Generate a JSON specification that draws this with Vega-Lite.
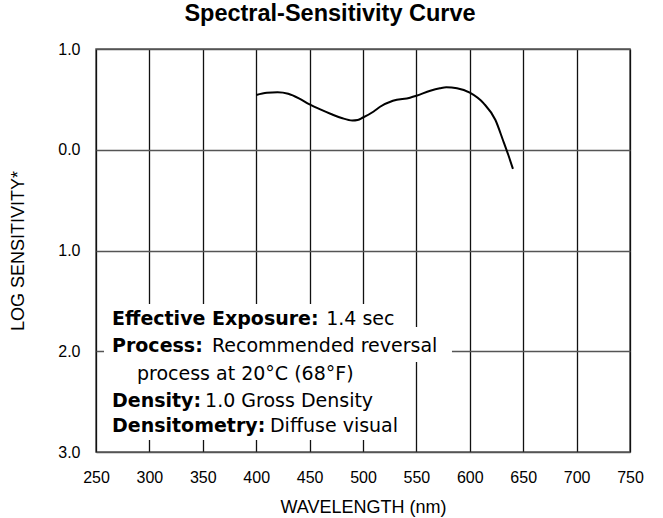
{
  "$schema": "https://vega.github.io/schema/vega-lite/v6.json",
  "width": 534,
  "height": 403,
  "autosize": {"type": "none"},
  "padding": {"left": 96, "top": 49, "right": 33, "bottom": 66},
  "background": "white",
  "title": {"text": "Spectral-Sensitivity Curve", "font": "Liberation Sans", "fontSize": 23.5, "fontWeight": "bold", "color": "black", "anchor": "middle", "dx": -33, "offset": 16},
  "config": {
    "view": {"stroke": "#555", "strokeWidth": 1.5},
    "font": "Liberation Sans",
    "axisX": {
      "grid": true, "gridColor": "#111", "gridWidth": 1.3,
      "ticks": false, "domain": false,
      "labelFont": "Liberation Sans", "labelFontSize": 16, "labelColor": "black",
      "labelPadding": 17, "labelFlush": false, "labelOverlap": false,
      "titleFont": "Liberation Sans", "titleFontSize": 18,
      "titleFontWeight": "normal", "titleColor": "black", "titlePadding": 13
    },
    "axisY": {
      "grid": true, "gridColor": "#555", "gridWidth": 1.5,
      "ticks": false, "domain": false,
      "labelFont": "Liberation Sans", "labelFontSize": 16, "labelColor": "black",
      "labelPadding": 16, "labelFlush": false, "labelOverlap": false,
      "titleFont": "Liberation Sans", "titleFontSize": 18,
      "titleFontWeight": "normal", "titleColor": "black", "titlePadding": 30
    }
  },
  "datasets": {
    "curve": [
      {"wavelength": 400, "logSensitivity": 0.543},
      {"wavelength": 410, "logSensitivity": 0.565},
      {"wavelength": 420, "logSensitivity": 0.57},
      {"wavelength": 430, "logSensitivity": 0.555},
      {"wavelength": 440, "logSensitivity": 0.51},
      {"wavelength": 450, "logSensitivity": 0.45},
      {"wavelength": 460, "logSensitivity": 0.4},
      {"wavelength": 470, "logSensitivity": 0.355},
      {"wavelength": 480, "logSensitivity": 0.315},
      {"wavelength": 490, "logSensitivity": 0.29},
      {"wavelength": 495, "logSensitivity": 0.295},
      {"wavelength": 500, "logSensitivity": 0.32},
      {"wavelength": 510, "logSensitivity": 0.38},
      {"wavelength": 516, "logSensitivity": 0.427},
      {"wavelength": 528, "logSensitivity": 0.487},
      {"wavelength": 544, "logSensitivity": 0.517},
      {"wavelength": 550, "logSensitivity": 0.536},
      {"wavelength": 563, "logSensitivity": 0.586},
      {"wavelength": 572, "logSensitivity": 0.61},
      {"wavelength": 578, "logSensitivity": 0.62},
      {"wavelength": 588, "logSensitivity": 0.61},
      {"wavelength": 600, "logSensitivity": 0.566},
      {"wavelength": 613, "logSensitivity": 0.46},
      {"wavelength": 624, "logSensitivity": 0.295},
      {"wavelength": 631, "logSensitivity": 0.097},
      {"wavelength": 636, "logSensitivity": -0.05},
      {"wavelength": 640.4, "logSensitivity": -0.19}
    ],
    "boxes": [
      {"x1": 257.5, "x2": 542.1, "y1": -1.531, "y2": -2.881},
      {"x1": 261.2, "x2": 583.3, "y1": -1.759, "y2": -2.107}
    ],
    "notes": [
      {"x": 265, "y": -1.74, "text": "Effective Exposure:", "weight": "bold"},
      {"x": 465.5, "y": -1.74, "text": "1.4 sec", "weight": "normal"},
      {"x": 265, "y": -2.007, "text": "Process:", "weight": "bold"},
      {"x": 358.6, "y": -2.007, "text": "Recommended reversal", "weight": "normal"},
      {"x": 288.4, "y": -2.285, "text": "process at 20°C (68°F)", "weight": "normal"},
      {"x": 265, "y": -2.555, "text": "Density:", "weight": "bold"},
      {"x": 352.1, "y": -2.555, "text": "1.0 Gross Density", "weight": "normal"},
      {"x": 265, "y": -2.8, "text": "Densitometry:", "weight": "bold"},
      {"x": 412.9, "y": -2.8, "text": "Diffuse visual", "weight": "normal"}
    ]
  },
  "layer": [
    {
      "data": {"name": "curve"},
      "mark": {"type": "line", "color": "black", "strokeWidth": 2, "interpolate": "monotone"},
      "encoding": {
        "x": {"field": "wavelength", "type": "quantitative", "title": "WAVELENGTH (nm)",
              "scale": {"domain": [250, 750], "nice": false, "zero": false},
              "axis": {"values": [250, 300, 350, 400, 450, 500, 550, 600, 650, 700, 750]}},
        "y": {"field": "logSensitivity", "type": "quantitative", "title": "LOG SENSITIVITY*",
              "scale": {"domain": [-3, 1], "nice": false, "zero": false},
              "axis": {"values": [1, 0, -1, -2, -3], "labelExpr": "format(abs(datum.value), '.1f')"}}
      }
    },
    {
      "data": {"name": "boxes"},
      "mark": {"type": "rect", "fill": "white"},
      "encoding": {
        "x": {"field": "x1", "type": "quantitative", "title": "WAVELENGTH (nm)"},
        "x2": {"field": "x2"},
        "y": {"field": "y1", "type": "quantitative", "title": "LOG SENSITIVITY*"},
        "y2": {"field": "y2"}
      }
    },
    {
      "data": {"name": "notes"},
      "transform": [{"filter": "datum.weight == 'bold'"}],
      "mark": {"type": "text", "align": "left", "baseline": "alphabetic", "font": "DejaVu Sans", "fontSize": 19, "fontWeight": "bold", "color": "black"},
      "encoding": {
        "x": {"field": "x", "type": "quantitative", "title": "WAVELENGTH (nm)"},
        "y": {"field": "y", "type": "quantitative", "title": "LOG SENSITIVITY*"},
        "text": {"field": "text"}
      }
    },
    {
      "data": {"name": "notes"},
      "transform": [{"filter": "datum.weight == 'normal'"}],
      "mark": {"type": "text", "align": "left", "baseline": "alphabetic", "font": "DejaVu Sans", "fontSize": 19, "fontWeight": "normal", "color": "black"},
      "encoding": {
        "x": {"field": "x", "type": "quantitative", "title": "WAVELENGTH (nm)"},
        "y": {"field": "y", "type": "quantitative", "title": "LOG SENSITIVITY*"},
        "text": {"field": "text"}
      }
    }
  ]
}
